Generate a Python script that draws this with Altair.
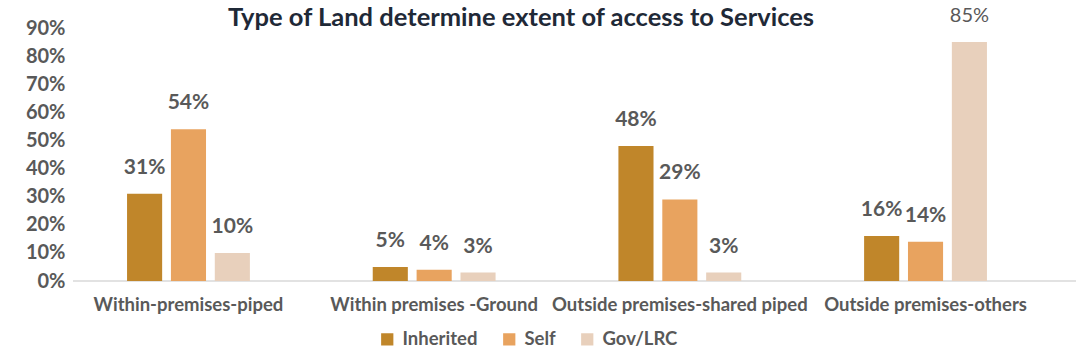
import altair as alt
import pandas as pd

title_text = "Type of Land determine extent of access to Services"
categories = ["Within-premises-piped", "Within premises -Ground",
              "Outside premises-shared piped", "Outside premises-others"]
series = ["Inherited", "Self", "Gov/LRC"]
inherited = [31, 5, 48, 16]
self_vals = [54, 4, 29, 14]
gov_vals = [10, 3, 3, 85]
colors = ["#C0862A", "#E8A35F", "#E8D0BC"]

rows = []
for s, vals in zip(series, [inherited, self_vals, gov_vals]):
    for c, v in zip(categories, vals):
        rows.append({"cat": c, "series": s, "value": v / 100.0,
                     "label": f"{v}%", "big": v >= 80})
df = pd.DataFrame(rows)

FONT = "Lato"
GREY = "#595959"

x = alt.X("cat:N", sort=categories, title=None,
          scale=alt.Scale(paddingInner=0.5, paddingOuter=0.22),
          axis=alt.Axis(labelAngle=0, labelFont=FONT, labelFontSize=18.5,
                        labelFontWeight="bold", labelColor=GREY, ticks=False,
                        grid=False, domain=False,
                        labelPadding=14, labelLimit=400))
xo = alt.XOffset("series:N", sort=series, scale=alt.Scale(paddingInner=0.2))
y = alt.Y("value:Q", title=None,
          scale=alt.Scale(domain=[0, 0.9], nice=False),
          axis=alt.Axis(format=".0%", values=[i / 10 for i in range(10)],
                        grid=False, ticks=False, domain=False,
                        labelFont=FONT, labelFontSize=20, labelFontWeight="bold",
                        labelColor=GREY, labelPadding=8))

base = alt.Chart(df)

baseline = alt.Chart(pd.DataFrame({"v": [0]})).mark_rule(
    color="#D9D9D9", strokeWidth=1.5
).encode(x=alt.value(0), x2=alt.value(1003), y=alt.value(253))

bars = base.mark_bar().encode(
    x=x, xOffset=xo, y=y,
    color=alt.Color("series:N", sort=series,
                    scale=alt.Scale(domain=series, range=colors),
                    legend=alt.Legend(title=None, orient="none", direction="horizontal",
                                      legendX=305, legendY=302,
                                      symbolType="square", symbolSize=150,
                                      symbolStrokeWidth=0,
                                      labelFont=FONT, labelFontSize=18.5,
                                      labelFontWeight="bold", labelColor=GREY,
                                      columnPadding=22, labelOffset=6)),
)

labels_bold = base.transform_filter("!datum.big").mark_text(
    baseline="bottom", dy=-16, font=FONT, fontSize=21, fontWeight="bold", color=GREY
).encode(x=x, xOffset=xo, y=y, text="label:N")

labels_reg = base.transform_filter("datum.big").mark_text(
    baseline="bottom", dy=-16, font=FONT, fontSize=20, fontWeight="normal", color=GREY
).encode(x=x, xOffset=xo, y=y, text="label:N")

title = alt.Chart(pd.DataFrame({"t": [title_text]})).mark_text(
    font=FONT, fontSize=25.5, fontWeight="bold", color="#1F2937",
    baseline="alphabetic", align="center"
).encode(x=alt.value(448), y=alt.value(-2), text="t:N")

chart = alt.layer(baseline, bars, labels_bold, labels_reg, title).properties(
    width=968, height=253,
    padding={"left": 73, "top": 28, "right": 35, "bottom": 80},
    autosize=alt.AutoSizeParams(type="none"),
    background="white",
).configure_view(stroke=None, strokeWidth=0)

chart.save("out.html", embed_options={"renderer": "svg", "actions": False})
